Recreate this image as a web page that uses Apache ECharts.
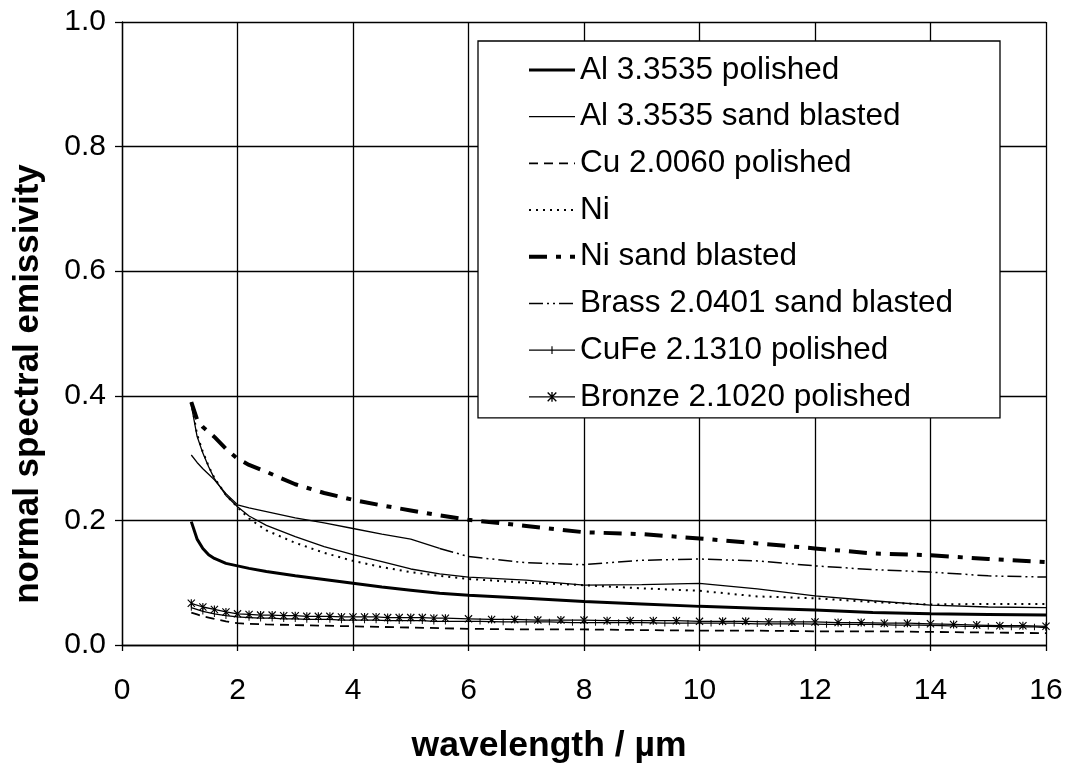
<!DOCTYPE html>
<html>
<head>
<meta charset="utf-8">
<title>Normal spectral emissivity of metals</title>
<script src="https://cdn.jsdelivr.net/npm/echarts@6/dist/echarts.min.js"></script>
<style>
  html, body { margin: 0; padding: 0; background: #fff; }
  #chart { width: 1072px; height: 771px; }
</style>
</head>
<body>
<div id="chart"></div>
<script>
// Wavelength samples (µm) for the plain-line curves
const wlLine = [1.2, 1.3, 1.4, 1.5, 1.6, 1.8, 2.0, 2.2, 2.5, 3.0, 3.5, 4.0, 4.5, 5.0, 5.5, 6.0,
                7, 8, 9, 10, 11, 12, 13, 14, 15, 16];

// Normal spectral emissivity for each sample
const alPolished    = [0.198, 0.170, 0.155, 0.145, 0.139, 0.131, 0.127, 0.123, 0.118, 0.111, 0.105, 0.099, 0.093, 0.088, 0.083, 0.080,
                       0.075, 0.070, 0.066, 0.062, 0.059, 0.056, 0.052, 0.050, 0.049, 0.048];
const alSandBlasted = [0.385, 0.335, 0.308, 0.286, 0.267, 0.240, 0.222, 0.207, 0.192, 0.174, 0.158, 0.145, 0.134, 0.122, 0.114, 0.109,
                       0.104, 0.096, 0.097, 0.099, 0.090, 0.079, 0.071, 0.064, 0.061, 0.060];
const cuPolished    = [0.052, 0.049, 0.046, 0.044, 0.042, 0.038, 0.035, 0.034, 0.033, 0.032, 0.031, 0.030, 0.029, 0.028, 0.027, 0.026,
                       0.025, 0.025, 0.024, 0.023, 0.023, 0.022, 0.022, 0.021, 0.020, 0.019];
const ni            = [0.390, 0.338, 0.310, 0.287, 0.268, 0.241, 0.221, 0.203, 0.184, 0.164, 0.148, 0.135, 0.125, 0.117, 0.111, 0.106,
                       0.100, 0.096, 0.091, 0.087, 0.078, 0.075, 0.069, 0.065, 0.066, 0.066];
const niSandBlasted = [0.390, 0.362, 0.350, 0.342, 0.334, 0.315, 0.299, 0.289, 0.278, 0.258, 0.244, 0.233, 0.224, 0.216, 0.208, 0.201,
                       0.191, 0.181, 0.178, 0.171, 0.163, 0.155, 0.147, 0.144, 0.138, 0.133];
const brassSandBlasted = [0.305, 0.293, 0.283, 0.274, 0.265, 0.243, 0.225, 0.220, 0.214, 0.204, 0.196, 0.187, 0.178, 0.170, 0.155, 0.142,
                          0.132, 0.129, 0.136, 0.138, 0.135, 0.127, 0.121, 0.117, 0.111, 0.109];

// Marked curves: dense sampling up to 5.6 µm, sparser beyond
const wlBronze = [1.2, 1.4, 1.6, 1.8, 2.0, 2.2, 2.4, 2.6, 2.8, 3.0, 3.2, 3.4, 3.6, 3.8, 4.0, 4.2, 4.4, 4.6, 4.8, 5.0, 5.2, 5.4, 5.6,
                  6.0, 6.4, 6.8, 7.2, 7.6, 8.0, 8.4, 8.8, 9.2, 9.6, 10.0, 10.4, 10.8, 11.2, 11.6, 12.0, 12.4, 12.8, 13.2, 13.6,
                  14.0, 14.4, 14.8, 15.2, 15.6, 16.0];
const bronzePolished = [0.067, 0.061, 0.057, 0.053, 0.050, 0.049, 0.048, 0.048, 0.047, 0.047, 0.046, 0.046, 0.046, 0.045, 0.045, 0.045,
                        0.045, 0.044, 0.044, 0.044, 0.044, 0.043, 0.043,
                        0.042, 0.041, 0.041, 0.040, 0.040, 0.040, 0.039, 0.039, 0.039, 0.039, 0.038, 0.038, 0.038, 0.037, 0.037,
                        0.037, 0.036, 0.036, 0.035, 0.035, 0.034, 0.033, 0.032, 0.031, 0.031, 0.030];
const wlCuFe = [1.2, 1.4, 1.6, 1.8, 2.0, 2.2, 2.4, 2.6, 2.8, 3.0, 3.2, 3.4, 3.6, 3.8, 4.0, 4.2, 4.4, 4.6, 4.8, 5.0, 5.2, 5.4, 5.6,
                6.2, 6.6, 7.0, 7.4, 7.8, 8.2, 8.6, 9.0, 9.4, 9.8, 10.2, 10.6, 11.0, 11.4, 11.8, 12.2, 12.6, 13.0, 13.4, 13.8,
                14.2, 14.6, 15.0, 15.4, 15.8, 16.0];
const cuFePolished = [0.060, 0.054, 0.050, 0.047, 0.045, 0.044, 0.043, 0.043, 0.042, 0.042, 0.041, 0.041, 0.041, 0.040, 0.040, 0.040,
                      0.040, 0.039, 0.039, 0.039, 0.039, 0.038, 0.038,
                      0.038, 0.037, 0.037, 0.037, 0.036, 0.036, 0.036, 0.036, 0.035, 0.035, 0.035, 0.035, 0.034, 0.034, 0.034,
                      0.033, 0.033, 0.033, 0.032, 0.032, 0.031, 0.030, 0.030, 0.029, 0.029, 0.028];

const seriesNames = [
  'Al 3.3535 polished',
  'Al 3.3535 sand blasted',
  'Cu 2.0060 polished',
  'Ni',
  'Ni sand blasted',
  'Brass 2.0401 sand blasted',
  'CuFe 2.1310 polished',
  'Bronze 2.1020 polished'
];

const pair = (xs, ys) => xs.map((x, i) => [x, ys[i]]);

// The brass curve is densely sampled below ~5.5 µm, where its dash pattern
// closes up into a continuous line; beyond that the dash-dot-dot shows.
const BRASS_DENSE_END = 14; // index of 5.5 µm in wlLine
const brassPoints = pair(wlLine, brassSandBlasted);

// six-armed star used as the bronze marker
const starPath = 'path://M0,1L1,0L10,9L9,10Z M9,0L10,1L1,10L0,9Z M4.3,0L5.7,0L5.7,10L4.3,10Z';
// thin vertical tick (tiny corner specks keep the square frame)
const tickPath = 'path://M0,0L0.01,0L0,0.01Z M9.99,10L10,10L10,9.99Z M4.4,1L5.6,1L5.6,9L4.4,9Z';

const FONT = '"Liberation Sans", Arial, sans-serif';

// line styles per curve
const styles = [
  { width: 3, type: 'solid' },
  { width: 1.3, type: 'solid' },
  { width: 1.8, type: [9, 6] },
  { width: 2, type: [2, 5] },
  { width: 4, type: [18, 9, 5, 9] },
  { width: 1.5, type: [14, 4, 2, 4, 2, 4] },
  { width: 1.3, type: 'solid' },
  { width: 1.3, type: 'solid' }
];

function lineSeries(name, data, style, extra) {
  return Object.assign({
    name: name,
    type: 'line',
    data: data,
    symbol: 'none',
    showSymbol: false,
    smooth: false,
    silent: true,
    animation: false,
    lineStyle: Object.assign({ color: '#000' }, style),
    itemStyle: { color: '#000' }
  }, extra || {});
}

// legend entries: plain curves get no marker in their key
const legendData = seriesNames.map((n, i) => {
  const item = { name: n, lineStyle: { color: '#000', width: styles[i].width, type: styles[i].type } };
  if (i < 6) item.itemStyle = { opacity: 0 };
  return item;
});

const chart = echarts.init(document.getElementById('chart'), null, { renderer: 'canvas' });

chart.setOption({
  backgroundColor: '#fff',
  animation: false,
  textStyle: { fontFamily: FONT, color: '#000' },
  grid: { left: 122, right: 26, top: 22, bottom: 126, containLabel: false },
  xAxis: {
    type: 'value',
    min: 0, max: 16, interval: 2,
    name: 'wavelength / µm',
    nameLocation: 'middle',
    nameGap: 83,
    nameTextStyle: { fontFamily: FONT, fontSize: 35.5, fontWeight: 'bold', color: '#000', padding: [0, 70, 0, 0] },
    axisLine: { show: true, onZero: false, lineStyle: { color: '#000', width: 1.3 } },
    axisTick: { show: true, inside: false, length: 6, lineStyle: { color: '#000', width: 1.3 } },
    axisLabel: { fontFamily: FONT, fontSize: 30, color: '#000', margin: 31 },
    splitLine: { show: true, lineStyle: { color: '#000', width: 1.3 } }
  },
  yAxis: {
    type: 'value',
    min: 0, max: 1, interval: 0.2,
    name: 'normal spectral emissivity',
    nameLocation: 'middle',
    nameGap: 76,
    nameRotate: 90,
    nameTextStyle: { fontFamily: FONT, fontSize: 35, fontWeight: 'bold', color: '#000', padding: [0, 101, 0, 0] },
    axisLine: { show: true, onZero: false, lineStyle: { color: '#000', width: 1.3 } },
    axisTick: { show: true, inside: false, length: 7, lineStyle: { color: '#000', width: 1.3 } },
    axisLabel: { fontFamily: FONT, fontSize: 30, color: '#000', margin: 16,
                 formatter: v => v.toFixed(1) },
    splitLine: { show: true, lineStyle: { color: '#000', width: 1.3 } }
  },
  legend: {
    show: true,
    orient: 'vertical',
    left: 478,
    top: 41,
    padding: [12, 47, 4, 49],
    itemGap: 12.7,
    itemWidth: 46,
    itemHeight: 12,
    backgroundColor: '#fff',
    borderColor: '#000',
    borderWidth: 1.3,
    selectedMode: false,
    data: legendData,
    textStyle: { fontFamily: FONT, fontSize: 31.5, color: '#000', lineHeight: 34 }
  },
  series: [
    lineSeries(seriesNames[0], pair(wlLine, alPolished), styles[0]),
    lineSeries(seriesNames[1], pair(wlLine, alSandBlasted), styles[1]),
    lineSeries(seriesNames[2], pair(wlLine, cuPolished), styles[2]),
    lineSeries(seriesNames[3], pair(wlLine, ni), styles[3]),
    lineSeries(seriesNames[4], pair(wlLine, niSandBlasted), styles[4]),
    lineSeries(seriesNames[5], brassPoints.slice(BRASS_DENSE_END), styles[5]),
    lineSeries(seriesNames[5], brassPoints.slice(0, BRASS_DENSE_END + 1), { width: 1.3, type: 'solid' }),
    lineSeries(seriesNames[6], pair(wlCuFe, cuFePolished), styles[6],
      { symbol: tickPath, symbolSize: 8, showSymbol: true }),
    lineSeries(seriesNames[7], pair(wlBronze, bronzePolished), styles[7],
      { symbol: starPath, symbolSize: 8, showSymbol: true })
  ]
});
</script>
</body>
</html>
